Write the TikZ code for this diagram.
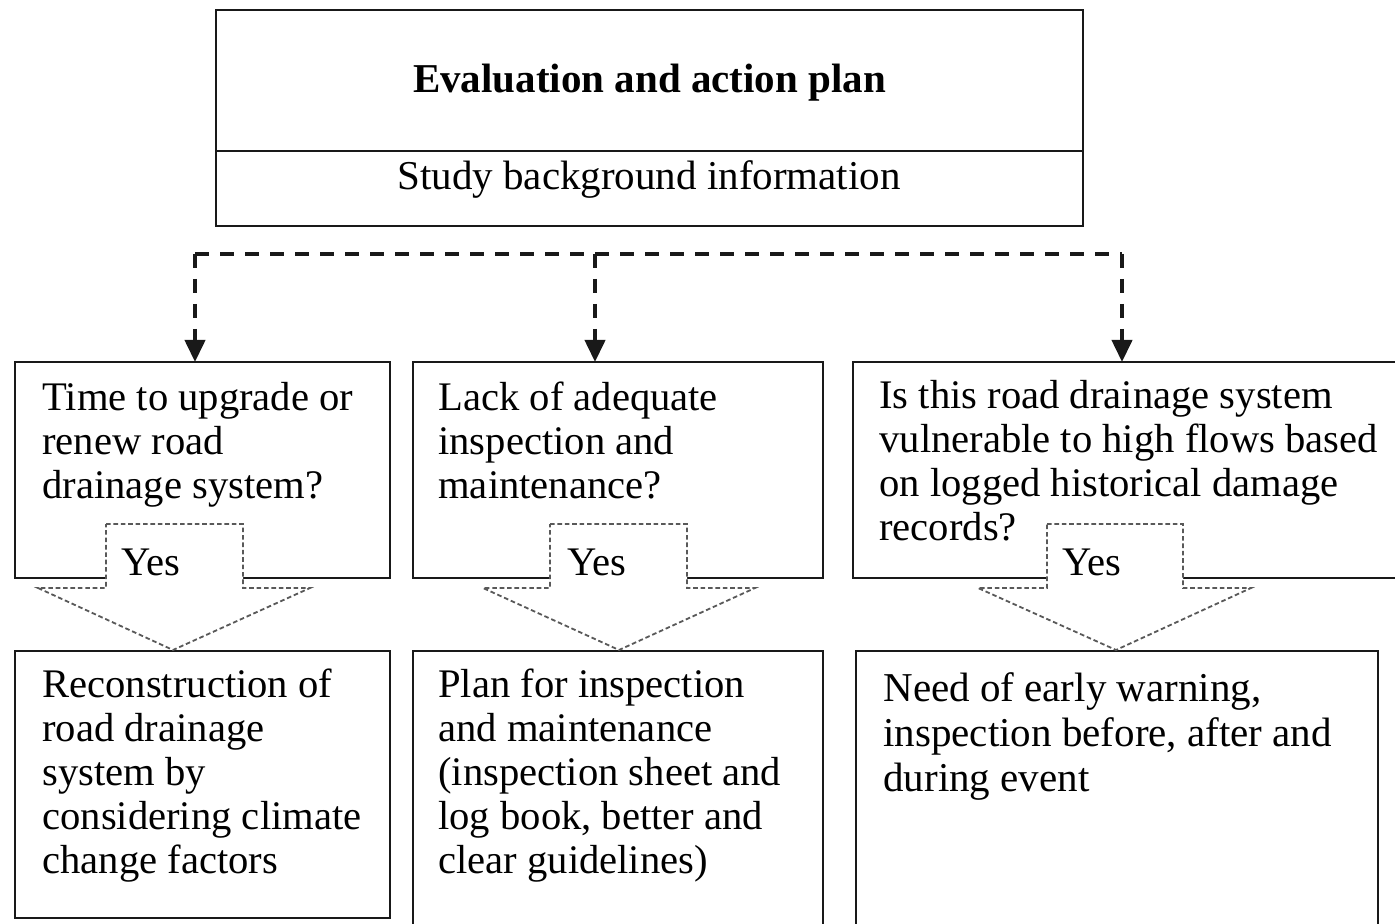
\documentclass[tikz,border=0pt]{standalone}
\usepackage{fontspec}
\setmainfont{Liberation Serif}
\usetikzlibrary{arrows.meta}
\begin{document}
\begin{tikzpicture}[x=0.5pt,y=-0.5pt,
  box/.style={draw=black!90, line width=1.2pt, inner sep=0pt, outer sep=0pt},
  txt/.style={anchor=north west, inner sep=0pt, align=left, font=\fontsize{20.3}{22}\selectfont},
  headtxt/.style={anchor=base, inner sep=0pt, font=\fontsize{20.5}{22}\selectfont},
  conn/.style={draw=black!90, line width=2pt, dash pattern=on 7pt off 5.5pt},
  tip/.style={-{Triangle[width=10pt,length=11pt]}},
  yesarrow/.style={draw=black!65, fill=white, line width=0.9pt, dash pattern=on 2.3pt off 1.4pt},
  yes/.style={anchor=base west, inner sep=0pt, font=\fontsize{20.3}{22}\selectfont}]

\useasboundingbox (0,0) rectangle (1395,924);
\clip (0,0) rectangle (1395,924);
\fill[white] (0,0) rectangle (1395,924);

% heading block
\node[box, minimum width=433.5pt, minimum height=70.5pt] (plan) at (649.5,80.5) {};
\node[box, minimum width=433.5pt, minimum height=37.5pt] (study) at (649.5,188.5) {};
\node[headtxt, font=\fontsize{20.5}{22}\selectfont\bfseries] (plantext) at (649.5,93) {Evaluation and action plan};
\node[headtxt] (studytext) at (649,190) {Study background information};

% question boxes
\node[box, minimum width=187.5pt, minimum height=108pt] (q1) at (202.5,470) {};
\node[box, minimum width=205pt, minimum height=108pt] (q2) at (618,470) {};
\node[box, minimum width=283.5pt, minimum height=108pt] (q3) at (1136.5,470) {};

% action boxes
\node[box, minimum width=187.5pt, minimum height=133.5pt] (a1) at (202.5,784.5) {};
\node[box, minimum width=205pt, minimum height=144.5pt] (a2) at (618,795.5) {};
\node[box, minimum width=261pt, minimum height=144.5pt] (a3) at (1117,795.5) {};

% dashed distribution line
\coordinate (jl) at (195,254);
\coordinate (jm) at (595,254);
\coordinate (jr) at (1122,254);
\draw[conn] (jl) -- (jr);
\draw[conn,tip] (jl) -- (jl |- q1.north);
\draw[conn,tip] (jm) -- (jm |- q2.north);
\draw[conn,tip] (jr) -- (jr |- q3.north);

% "Yes" block arrows
\draw[yesarrow] (106,524) -- (243,524) -- (243,588) -- (310,588) -- (173,650)
  -- (38,588) -- (106,588) -- cycle;
\draw[yesarrow] (550,524) -- (687,524) -- (687,588) -- (755,588) -- (619,650)
  -- (483,588) -- (550,588) -- cycle;
\draw[yesarrow] (1047,524) -- (1183,524) -- (1183,588) -- (1251,588) -- (1116,650)
  -- (978,588) -- (1047,588) -- cycle;
\node[yes] (y1) at (121,575) {Yes};
\node[yes] (y2) at (567,575) {Yes};
\node[yes] (y3) at (1062,575) {Yes};

% box texts
\node[txt] (t1) at (42,379) {\strut Time to upgrade or\\renew road\\drainage system?};
\node[txt] (t2) at (438,379) {\strut Lack of adequate\\inspection and\\maintenance?};
\node[txt] (t3) at (879,377) {\strut Is this road drainage system\\vulnerable to high flows based\\on logged historical damage\\records?};
\node[txt] (t4) at (42,666) {\strut Reconstruction of\\road drainage\\system by\\considering climate\\change factors};
\node[txt] (t5) at (438,666) {\strut Plan for inspection\\and maintenance\\(inspection sheet and\\log book, better and\\clear guidelines)};
\node[txt, font=\fontsize{20.5}{22.5}\selectfont] (t6) at (883,670) {\strut Need of early warning,\\inspection before, after and\\during event};
\end{tikzpicture}
\end{document}
